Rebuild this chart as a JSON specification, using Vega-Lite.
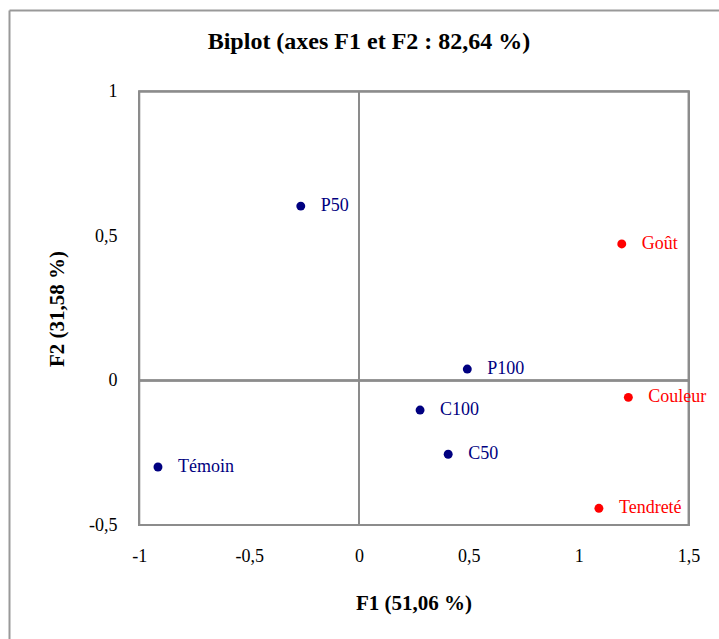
{
  "$schema": "https://vega.github.io/schema/vega-lite/v6.json",
  "autosize": {"type": "none"},
  "padding": {"left": 9, "top": 10, "right": 0, "bottom": 0},
  "width": 710,
  "height": 629,
  "background": "white",
  "config": {
    "view": {"stroke": null},
    "font": "Liberation Serif",
    "axis": {"grid": false, "labelFont": "Liberation Serif", "titleFont": "Liberation Serif"}
  },
  "title": {
    "text": "Biplot (axes F1 et F2 : 82,64 %)",
    "font": "Liberation Serif",
    "fontSize": 24,
    "fontWeight": "bold",
    "color": "black",
    "anchor": "middle",
    "baseline": "middle",
    "offset": -56,
    "dx": 5
  },
  "data": {
    "values": [
      {"label": "P50", "F1": -0.265, "F2": 0.604, "group": "Observation"},
      {"label": "P100", "F1": 0.493, "F2": 0.040, "group": "Observation"},
      {"label": "C100", "F1": 0.278, "F2": -0.102, "group": "Observation"},
      {"label": "C50", "F1": 0.406, "F2": -0.255, "group": "Observation"},
      {"label": "Témoin", "F1": -0.915, "F2": -0.299, "group": "Observation"},
      {"label": "Goût", "F1": 1.196, "F2": 0.473, "group": "Variable"},
      {"label": "Couleur", "F1": 1.226, "F2": -0.058, "group": "Variable"},
      {"label": "Tendreté", "F1": 1.092, "F2": -0.442, "group": "Variable"}
    ]
  },
  "resolve": {"axis": {"x": "independent", "y": "independent"}},
  "layer": [
    {
      "mark": {"type": "rect", "fill": "white", "stroke": "#8c8c8c", "strokeWidth": 2},
      "encoding": {
        "x": {
          "datum": -1,
          "type": "quantitative",
          "scale": {"domain": [-1.593, 1.6386], "nice": false, "zero": false},
          "axis": {
            "orient": "bottom",
            "offset": -114,
            "values": [-1, -0.5, 0, 0.5, 1, 1.5],
            "labelExpr": "replace(toString(datum.value), '.', ',')",
            "domain": false,
            "ticks": false,
            "labelPadding": 22,
            "labelFontSize": 18,
            "labelColor": "black",
            "labelFlush": false,
            "title": "F1 (51,06 %)",
            "titleFontSize": 21,
            "titleFontWeight": "bold",
            "titleColor": "black",
            "titleX": 404.5,
            "titleY": 78,
            "titleAlign": "center",
            "titleBaseline": "middle"
          }
        },
        "x2": {"datum": 1.5},
        "y": {
          "datum": -0.5,
          "type": "quantitative",
          "scale": {"domain": [-0.8944, 1.2828], "nice": false, "zero": false},
          "axis": {
            "orient": "left",
            "offset": -130,
            "values": [-0.5, 0, 0.5, 1],
            "labelExpr": "replace(toString(datum.value), '.', ',')",
            "domain": false,
            "ticks": false,
            "labelPadding": 22,
            "labelFontSize": 18,
            "labelColor": "black",
            "labelFlush": false,
            "title": "F2 (31,58 %)",
            "titleFontSize": 21,
            "titleFontWeight": "bold",
            "titleColor": "black",
            "titleX": -82,
            "titleY": 298.5,
            "titleAlign": "center",
            "titleBaseline": "middle",
            "titleAngle": -90
          }
        },
        "y2": {"datum": 1}
      }
    },
    {
      "mark": {"type": "rule", "color": "#8c8c8c", "strokeWidth": 1.5},
      "encoding": {
        "x": {
          "datum": -1,
          "type": "quantitative",
          "axis": {
            "orient": "bottom",
            "offset": -262,
            "values": [-0.5, 0.5, 1],
            "domain": false,
            "labels": false,
            "ticks": true,
            "tickSize": 9,
            "tickWidth": 1.5,
            "tickColor": "#8c8c8c",
            "title": null
          }
        },
        "x2": {"datum": 1.5},
        "y": {"datum": 0, "type": "quantitative", "axis": null}
      }
    },
    {
      "mark": {"type": "rule", "color": "#8c8c8c", "strokeWidth": 1.5},
      "encoding": {
        "x": {"datum": 0, "type": "quantitative", "axis": null},
        "y": {
          "datum": -0.5,
          "type": "quantitative",
          "axis": {
            "orient": "left",
            "offset": -356,
            "values": [0.5],
            "domain": false,
            "labels": false,
            "ticks": true,
            "tickSize": 12,
            "tickWidth": 1.5,
            "tickColor": "#8c8c8c",
            "title": null
          }
        },
        "y2": {"datum": 1}
      }
    },
    {
      "mark": {"type": "circle", "size": 80, "opacity": 1},
      "encoding": {
        "x": {
          "field": "F1",
          "type": "quantitative",
          "axis": {
            "orient": "top",
            "domain": true,
            "domainColor": "#999999",
            "domainWidth": 2,
            "labels": false,
            "ticks": false,
            "title": null
          }
        },
        "y": {
          "field": "F2",
          "type": "quantitative",
          "axis": {
            "orient": "left",
            "domain": true,
            "domainColor": "#999999",
            "domainWidth": 2,
            "labels": false,
            "ticks": false,
            "title": null
          }
        },
        "color": {
          "field": "group",
          "type": "nominal",
          "scale": {"domain": ["Observation", "Variable"], "range": ["#000080", "#FF0000"]},
          "legend": null
        }
      }
    },
    {
      "mark": {"type": "text", "align": "left", "baseline": "middle", "dx": 20, "fontSize": 18, "font": "Liberation Serif"},
      "encoding": {
        "x": {"field": "F1", "type": "quantitative", "axis": null},
        "y": {"field": "F2", "type": "quantitative", "axis": null},
        "text": {"field": "label"},
        "color": {
          "field": "group",
          "type": "nominal",
          "scale": {"domain": ["Observation", "Variable"], "range": ["#000080", "#FF0000"]},
          "legend": null
        }
      }
    }
  ]
}
